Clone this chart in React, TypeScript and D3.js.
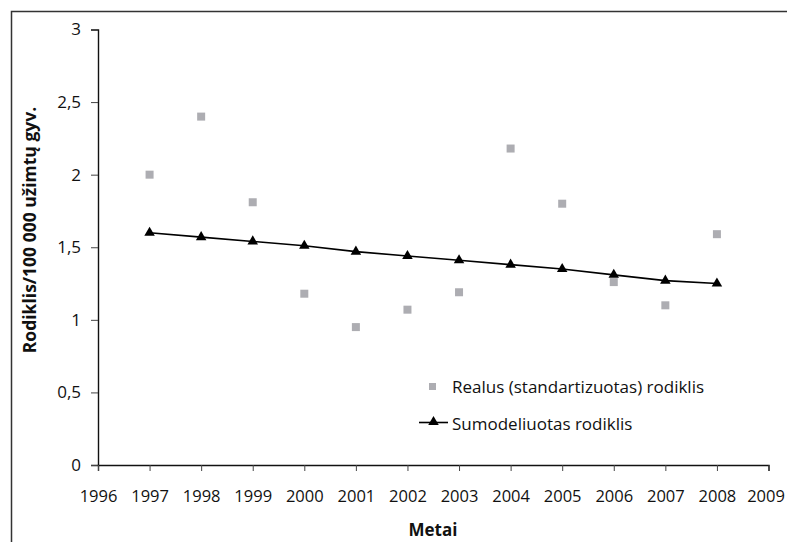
import React, { useEffect, useRef } from 'react'
import * as d3 from 'd3'

// metai ir reiksmes nuskaitytos is paveikslo
const years = [1997, 1998, 1999, 2000, 2001, 2002, 2003, 2004, 2005, 2006, 2007, 2008]
const realValues = [2.0, 2.4, 1.81, 1.18, 0.95, 1.07, 1.19, 2.18, 1.8, 1.26, 1.1, 1.59]
const modelValues = [1.6, 1.57, 1.54, 1.51, 1.47, 1.44, 1.41, 1.38, 1.35, 1.31, 1.27, 1.25]
const yTicks = [0, 0.5, 1, 1.5, 2, 2.5, 3]
const xTicks = d3.range(1996, 2010)
const legendLabels = ['Realus (standartizuotas) rodiklis', 'Sumodeliuotas rodiklis']

const FONT = '"Open Sans", sans-serif'

export default function App() {
    const ref = useRef<SVGSVGElement>(null)

    useEffect(() => {
        const width = 787
        const height = 542
        const svg = d3.select(ref.current)
        svg.selectAll('*').remove()
        svg.attr('width', width).attr('height', height)

        /* frame (only left and top are visible) */
        svg.append('path')
            .attr('d', 'M11.5,542 V11.5 H787')
            .attr('fill', 'none')
            .attr('stroke', '#333')
            .attr('stroke-width', 1.5)

        /* scales */
        const x = d3.scaleLinear().domain([1996, 2009]).range([98, 768.5])
        const y = d3.scaleLinear().domain([0, 3]).range([465, 29.5])

        /* Y axis */
        const yAxis = d3.axisLeft(y)
            .tickValues(yTicks)
            .tickSize(7)
            .tickPadding(10)
            .tickFormat((d) => String(d).replace('.', ','))
        const gy = svg.append('g').attr('transform', 'translate(98,0)').call(yAxis)
        gy.select('.domain').attr('stroke', '#111').attr('stroke-width', 1.4)
        gy.selectAll('.tick line').attr('stroke', '#444')
        gy.selectAll('.tick text')
            .attr('font-family', FONT)
            .attr('font-size', 17)
            .attr('fill', '#111')

        /* X axis */
        const xAxis = d3.axisBottom(x)
            .tickValues(xTicks)
            .tickSize(6)
            .tickPadding(19)
            .tickFormat((d) => String(d))
        const gx = svg.append('g').attr('transform', 'translate(0,465)').call(xAxis)
        gx.select('.domain').attr('stroke', '#111').attr('stroke-width', 1.4)
        gx.selectAll('.tick line').attr('stroke', '#444')
        gx.selectAll('.tick text')
            .attr('font-family', FONT)
            .attr('font-size', 16.5)
            .attr('fill', '#111')
        // last label is pulled in a bit, as in the original
        gx.selectAll('.tick text').filter((d) => d === 2009).attr('dx', -3)

        /* titles */
        svg.append('text')
            .attr('x', 433)
            .attr('y', 536)
            .attr('text-anchor', 'middle')
            .attr('font-family', FONT)
            .attr('font-weight', 'bold')
            .attr('font-size', 17)
            .attr('fill', '#111')
            .text('Metai')

        svg.append('text')
            .attr('transform', 'translate(36,230) rotate(-90)')
            .attr('text-anchor', 'middle')
            .attr('font-family', FONT)
            .attr('font-weight', 'bold')
            .attr('font-size', 17.5)
            .attr('fill', '#111')
            .text('Rodiklis/100 000 užimtų gyv.')

        /* real values - grey squares */
        const sq = 8
        svg.append('g')
            .selectAll('rect')
            .data(years)
            .enter()
            .append('rect')
            .attr('x', (d) => x(d) - sq / 2)
            .attr('y', (d, i) => y(realValues[i]) - sq / 2)
            .attr('width', sq)
            .attr('height', sq)
            .attr('fill', '#adadb2')

        /* modelled values - line with triangles */
        const line = d3.line<number>()
            .x((d) => x(d))
            .y((d, i) => y(modelValues[i]))
        svg.append('path')
            .datum(years)
            .attr('d', line)
            .attr('fill', 'none')
            .attr('stroke', '#000')
            .attr('stroke-width', 1.6)

        const tri = d3.symbol().type(d3.symbolTriangle).size(48)
        svg.append('g')
            .selectAll('path')
            .data(years)
            .enter()
            .append('path')
            .attr('d', tri)
            .attr('transform', (d, i) => `translate(${x(d)},${y(modelValues[i])})`)
            .attr('fill', '#000')

        /* legend */
        const lg = svg.append('g')
        lg.append('rect')
            .attr('x', 429).attr('y', 383)
            .attr('width', 7).attr('height', 7)
            .attr('fill', '#adadb2')
        lg.append('line')
            .attr('x1', 419).attr('x2', 448)
            .attr('y1', 422.5).attr('y2', 422.5)
            .attr('stroke', '#000')
            .attr('stroke-width', 1.6)
        lg.append('path')
            .attr('d', tri)
            .attr('transform', 'translate(433.5,422)')
            .attr('fill', '#000')
        lg.selectAll('text.lbl')
            .data(legendLabels)
            .enter()
            .append('text')
            .attr('class', 'lbl')
            .attr('x', 452)
            .attr('y', (d, i) => 393 + i * 37)
            .attr('font-family', FONT)
            .attr('font-size', 17)
            .attr('fill', '#111')
            .text((d) => d)
    }, [])

    return (
        <svg ref={ref} style={{ position: 'absolute', left: 0, top: 0 }}></svg>
    )
}
